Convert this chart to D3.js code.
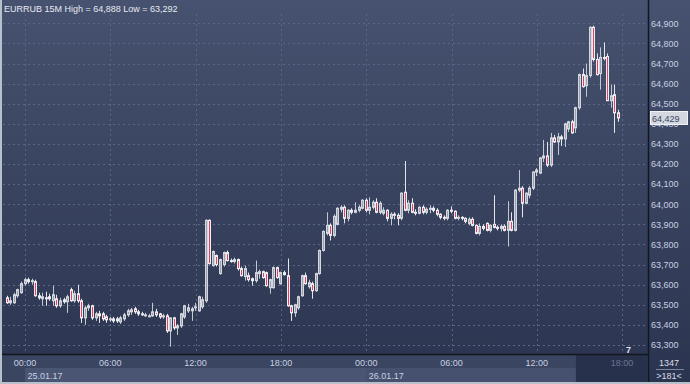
<!DOCTYPE html>
<html><head><meta charset="utf-8">
<script src="https://cdn.jsdelivr.net/npm/d3@7"></script>
<style>html,body{margin:0;padding:0;background:#2e3854;}svg{display:block;font-family:"Liberation Sans",Arial,sans-serif;}</style>
</head><body>
<svg id="c" width="690" height="384"></svg>
<script>
// ---- data (EURRUB 15M) ----
const startTime = new Date(2017, 0, 24, 22, 45); // first candle
const stepMinutes = 15;
const opens = [
63535,63510,63510,63545,63560,63605,63625,63615,63615,63545,
63530,63535,63540,63520,63530,63495,63525,63515,63575,63520,
63555,63520,63435,63485,63495,63435,63455,63455,63440,63425,
63430,63430,63415,63430,63450,63465,63480,63465,63455,63450,
63445,63445,63465,63455,63440,63445,63370,63435,63385,63395,
63440,63470,63470,63485,63470,63490,63520,63920,63695,63745,
63655,63700,63760,63720,63715,63725,63680,63640,63645,63630,
63620,63655,63665,63660,63585,63585,63685,63605,63660,63645,
63495,63460,63485,63545,63645,63590,63605,63570,63655,63770,
63855,63895,63845,63900,63975,63985,63930,63970,63960,63970,
63980,64020,63970,63985,64010,63960,63955,63970,63930,63950,
63945,63930,64060,63970,64005,63960,63955,63985,63960,63975,
63980,63970,63950,63935,63930,63970,63965,63930,63935,63930,
63905,63925,63895,63855,63890,63905,63870,63900,63885,63880,
63890,63870,63915,63870,64070,64080,64005,64045,64080,64160,
64155,64230,64240,64195,64330,64310,64335,64325,64375,64410,
64380,64480,64645,64590,64640,64880,64720,64650,64730,64735,
64515,64545,64455];
const highs = [
63545,63540,63560,63580,63615,63635,63635,63630,63625,63560,
63560,63565,63555,63595,63550,63535,63535,63550,63585,63570,
63600,63530,63495,63505,63500,63465,63470,63465,63450,63440,
63440,63440,63445,63460,63480,63485,63490,63475,63465,63460,
63455,63510,63480,63460,63455,63455,63435,63440,63405,63460,
63500,63505,63490,63510,63545,63540,63925,63925,63770,63750,
63730,63765,63770,63730,63735,63730,63690,63695,63660,63635,
63720,63675,63670,63665,63630,63690,63690,63665,63670,63730,
63500,63505,63545,63650,63660,63625,63615,63660,63775,63870,
63960,63905,63950,63985,63995,63995,63975,63980,64010,63995,
64025,64030,64035,64020,64030,64015,63985,63975,63960,63960,
63955,64060,64215,64020,64030,63975,63990,63995,63985,63995,
63990,63980,63955,63945,63975,63990,63970,63945,63940,63935,
63935,63935,63900,63905,63900,63910,63900,64045,63895,63900,
63900,64015,63960,64075,64170,64090,64060,64090,64165,64180,
64235,64320,64310,64355,64345,64355,64345,64405,64415,64420,
64485,64650,64675,64700,64885,64888,64750,64780,64805,64750,
64595,64595,64470];
const lows = [
63505,63500,63505,63535,63555,63595,63605,63600,63540,63525,
63495,63495,63520,63495,63485,63485,63505,63460,63515,63510,
63510,63410,63400,63470,63425,63420,63410,63420,63410,63415,
63410,63410,63405,63420,63440,63450,63455,63445,63445,63440,
63440,63440,63440,63430,63430,63360,63292,63375,63350,63385,
63430,63460,63420,63470,63465,63480,63510,63700,63690,63690,
63650,63690,63715,63710,63705,63670,63640,63620,63615,63595,
63610,63630,63630,63590,63555,63580,63630,63600,63645,63490,
63420,63440,63475,63540,63600,63580,63530,63565,63650,63765,
63845,63820,63835,63895,63960,63905,63915,63950,63955,63960,
63975,63960,63950,63975,63955,63950,63945,63915,63895,63925,
63895,63920,63965,63955,63955,63945,63950,63950,63950,63955,
63960,63940,63925,63920,63920,63955,63925,63920,63920,63905,
63895,63890,63850,63845,63870,63865,63860,63880,63870,63865,
63865,63790,63865,63865,64060,63935,64000,64030,64070,64140,
64150,64210,64185,64185,64305,64245,64290,64285,64360,64350,
64355,64470,64580,64535,64630,64710,64640,64570,64715,64515,
64480,64355,64410];
const closes = [
63510,63520,63550,63575,63605,63625,63615,63620,63545,63535,
63540,63530,63530,63550,63495,63520,63515,63540,63520,63555,
63520,63435,63485,63495,63435,63455,63445,63430,63425,63430,
63420,63420,63435,63450,63470,63475,63465,63455,63450,63450,
63445,63465,63450,63440,63445,63370,63435,63385,63395,63455,
63495,63485,63480,63490,63540,63525,63920,63705,63765,63700,
63725,63760,63720,63715,63725,63680,63645,63680,63625,63620,
63660,63665,63635,63595,63625,63685,63635,63660,63650,63495,
63460,63500,63540,63645,63605,63610,63570,63655,63770,63865,
63895,63845,63940,63980,63985,63930,63970,63960,63970,63985,
64020,63970,63985,64010,63960,64005,63970,63930,63950,63945,
63930,64055,63970,64005,63960,63955,63985,63960,63975,63980,
63970,63950,63935,63930,63970,63965,63930,63935,63930,63915,
63925,63895,63855,63890,63880,63870,63895,63885,63880,63890,
63870,63915,63870,64070,64080,64005,64055,64080,64160,64170,
64230,64240,64195,64330,64310,64335,64325,64400,64410,64355,
64480,64645,64585,64640,64880,64720,64645,64730,64725,64515,
64540,64455,64429];
const yTicks = [63300,63400,63500,63600,63700,63800,63900,64000,64100,64200,64300,64400,64500,64600,64700,64800,64900];
const timeTickLabels = ["00:00","06:00","12:00","18:00","00:00","06:00","12:00","18:00"];
const timeTicks = [
  new Date(2017,0,25,0,0), new Date(2017,0,25,6,0), new Date(2017,0,25,12,0), new Date(2017,0,25,18,0),
  new Date(2017,0,26,0,0), new Date(2017,0,26,6,0), new Date(2017,0,26,12,0), new Date(2017,0,26,18,0)];
const dateLabels = ["25.01.17","26.01.17"];
const dateStarts = [new Date(2017,0,25,0,0), new Date(2017,0,26,0,0)];
const titleText = "EURRUB 15M High = 64,888 Low = 63,292";
const lastPrice = 64429;
const barCountText = "1347";
const visibleText = ">181<";
const cornerText = "7";

const candles = opens.map((o,i)=>({
  t: new Date(startTime.getTime() + i*stepMinutes*60000),
  o, h: highs[i], l: lows[i], c: closes[i]
}));

// ---- layout ----
const W = 690, H = 384;
const plotRight = 648, plotBottom = 354;
const svg = d3.select("#c");
const fmt = d3.format(",d");

const x = d3.scaleTime()
  .domain([new Date(2017,0,25,0,0), new Date(2017,0,26,18,0)])
  .range([25, 622.1]);
const y = d3.scaleLinear().domain([63300, 64900]).range([345, 23.3]);

const defs = svg.append("defs");
const g1 = defs.append("linearGradient").attr("id","bg").attr("x1",0).attr("y1",0).attr("x2",0).attr("y2",1);
g1.append("stop").attr("offset","0%").attr("stop-color","#46526f");
g1.append("stop").attr("offset","100%").attr("stop-color","#2b344f");

svg.append("rect").attr("width",W).attr("height",H).attr("fill","url(#bg)");

// grid
const grid = svg.append("g").attr("stroke","#5a6684").attr("stroke-width",1).attr("stroke-dasharray","2,3");
grid.selectAll("line.h").data(yTicks).join("line")
  .attr("x1",3).attr("x2",plotRight)
  .attr("y1",d=>Math.round(y(d))+0.5).attr("y2",d=>Math.round(y(d))+0.5);
grid.selectAll("line.v").data(timeTicks).join("line")
  .attr("y1",14).attr("y2",plotBottom)
  .attr("x1",d=>Math.round(x(d))+0.5).attr("x2",d=>Math.round(x(d))+0.5);

// candles
const cg = svg.append("g");
candles.forEach(d=>{
  const cx = Math.floor(x(d.t));
  const up = d.c >= d.o;
  cg.append("line").attr("x1",cx+0.5).attr("x2",cx+0.5)
    .attr("y1",y(d.h)).attr("y2",y(d.l))
    .attr("stroke", up ? "#c4c8d0" : "#e4e6ea").attr("stroke-width",1);
  const top = y(Math.max(d.o,d.c)), bot = y(Math.min(d.o,d.c));
  cg.append("rect").attr("x",cx-0.5).attr("width",2)
    .attr("y",top).attr("height",Math.max(1,bot-top))
    .attr("fill", up ? "#9aa0ab" : "#e8405f")
    .attr("stroke", up ? "#d4d7dd" : "#eceef2").attr("stroke-width",1);
});

// title
svg.append("text").attr("x",4).attr("y",11.5).attr("fill","#e6eaf2")
  .attr("font-size",9).text(titleText);

// right axis
svg.append("line").attr("x1",plotRight+0.5).attr("x2",plotRight+0.5).attr("y1",0).attr("y2",382)
  .attr("stroke","#12161e").attr("stroke-width",1.5);
const ly = Math.round(y(lastPrice));
// the tick label hidden under the last-price box is drawn partly (peeking below it, as in the reference)
svg.selectAll("text.yl").data(yTicks).join("text")
  .attr("x",651).attr("y",d=>y(d)+3.3).attr("font-size",9).attr("fill","#c8d0e0").text(d=>fmt(d));

// last price box
svg.append("rect").attr("x",650.5).attr("y",ly-6.5).attr("width",37).attr("height",13)
  .attr("fill","#d3d8e0").attr("stroke","#f0f2f6").attr("stroke-width",1);
svg.append("text").attr("x",652).attr("y",ly+3.5).attr("font-size",9).attr("fill","#3a4560").text(fmt(lastPrice));

// bottom axis area
svg.append("rect").attr("x",0).attr("y",plotBottom).attr("width",plotRight).attr("height",H-plotBottom).attr("fill","#3a4561");
const dayBands = [[dateStarts[0], dateStarts[1], "#4a5573"],[dateStarts[1], new Date(2017,0,26,15,0), "#46516f"]];
svg.selectAll("rect.day").data(dayBands).join("rect")
  .attr("x",d=>x(d[0])).attr("width",d=>x(d[1])-x(d[0])).attr("y",368).attr("height",14).attr("fill",d=>d[2]);
svg.append("rect").attr("x",x(new Date(2017,0,26,14,45))).attr("y",plotBottom+1)
  .attr("width",plotRight-x(new Date(2017,0,26,14,45))).attr("height",382-plotBottom-1).attr("fill","#28314b");
svg.append("line").attr("x1",0).attr("x2",plotRight).attr("y1",plotBottom+0.5).attr("y2",plotBottom+0.5)
  .attr("stroke","#12161e").attr("stroke-width",1.5);
svg.selectAll("text.xl").data(timeTicks).join("text")
  .attr("x",d=>x(d)).attr("y",366).attr("text-anchor","middle").attr("font-size",9)
  .attr("fill",(d,i)=> i===7 ? "#6a7590" : "#c8d0e0").text((d,i)=>timeTickLabels[i]);
svg.selectAll("text.dl").data(dateStarts).join("text")
  .attr("x",d=>x(d)+2.5).attr("y",378.5).attr("font-size",9).attr("fill","#c8d0e0").text((d,i)=>dateLabels[i]);

svg.append("text").attr("x",626).attr("y",353).attr("font-size",9).attr("font-weight","bold").attr("fill","#e0e4ec").text(cornerText);

// right bottom counters
svg.append("text").attr("x",669).attr("y",366).attr("text-anchor","middle").attr("font-size",9).attr("fill","#d8dde8").text(barCountText);
svg.append("line").attr("x1",656).attr("x2",684).attr("y1",369.5).attr("y2",369.5).attr("stroke","#7a849c");
svg.append("text").attr("x",669).attr("y",379).attr("text-anchor","middle").attr("font-size",9).attr("fill","#d8dde8").text(visibleText);

// borders
svg.append("rect").attr("x",0).attr("y",0).attr("width",2).attr("height",H).attr("fill","#b8c0cc");
svg.append("rect").attr("x",0).attr("y",382).attr("width",W).attr("height",2).attr("fill","#b8c0cc");
</script>
</body></html>
